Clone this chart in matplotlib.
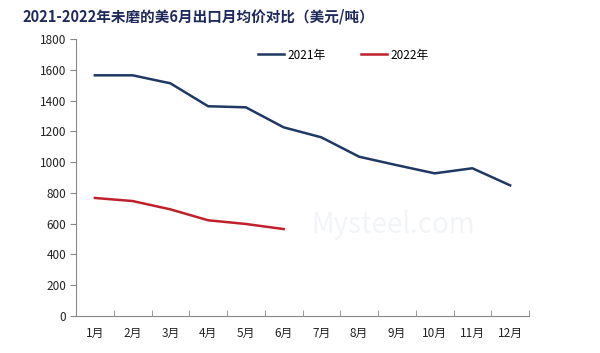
import matplotlib.pyplot as plt
import numpy as np

plt.rcParams['font.family'] = ['Noto Sans CJK SC', 'DejaVu Sans']

# data
months = ['1月', '2月', '3月', '4月', '5月', '6月', '7月', '8月', '9月', '10月', '11月', '12月']
price_2021 = [1564, 1564, 1512, 1363, 1356, 1226, 1161, 1035, 980, 927, 960, 849]
price_2022 = [767, 747, 693, 622, 598, 565]
y_ticks = [0, 200, 400, 600, 800, 1000, 1200, 1400, 1600, 1800]

fig = plt.figure(figsize=(6, 3.53), dpi=100)
ax = fig.add_axes([76 / 600, 1 - 316 / 353, 453 / 600, 277 / 353])

x = np.arange(len(months))
ax.plot(x, price_2021, color='#1F3864', lw=1.8, label='2021年')
ax.plot(x[:len(price_2022)], price_2022, color='#C0202A', lw=1.8, label='2022年')

ax.set_xlim(-0.5, len(months) - 0.5)
ax.set_ylim(0, 1800)
ax.set_yticks(y_ticks)
ax.set_yticklabels([str(v) for v in y_ticks], fontsize=8.5, color='#222222')

# category labels between the boundary ticks
ax.set_xticks(x)
ax.set_xticklabels(months, fontsize=8.5, color='#222222')
ax.tick_params(axis='x', length=0, pad=8)
ax.set_xticks(np.arange(-0.5, len(months)), minor=True)
ax.tick_params(axis='x', which='minor', direction='in', length=4, color='#888888')
ax.tick_params(axis='y', direction='out', length=4, color='#888888', pad=3)

for s in ['top', 'right']:
    ax.spines[s].set_visible(False)
for s in ['left', 'bottom']:
    ax.spines[s].set_color('#888888')
    ax.spines[s].set_linewidth(0.8)

ax.legend(loc='center', bbox_to_anchor=(0.59, 0.942), ncol=2, frameon=False,
          fontsize=8.5, handlelength=2.2, handletextpad=0.3, columnspacing=3.0)

# faint watermark
ax.text(0.52, 0.33, 'Mysteel.com', transform=ax.transAxes, fontsize=20,
        color='#e6eaf0', alpha=0.5, ha='left', va='center', zorder=0)

fig.text(22 / 600, 1 - 16 / 353, '2021-2022年未磨的美6月出口月均价对比（美元/吨）',
         fontsize=10.5, fontweight='bold', color='#1F2A5C', va='center', ha='left')

fig.savefig('out.png', dpi=100, facecolor='white')
